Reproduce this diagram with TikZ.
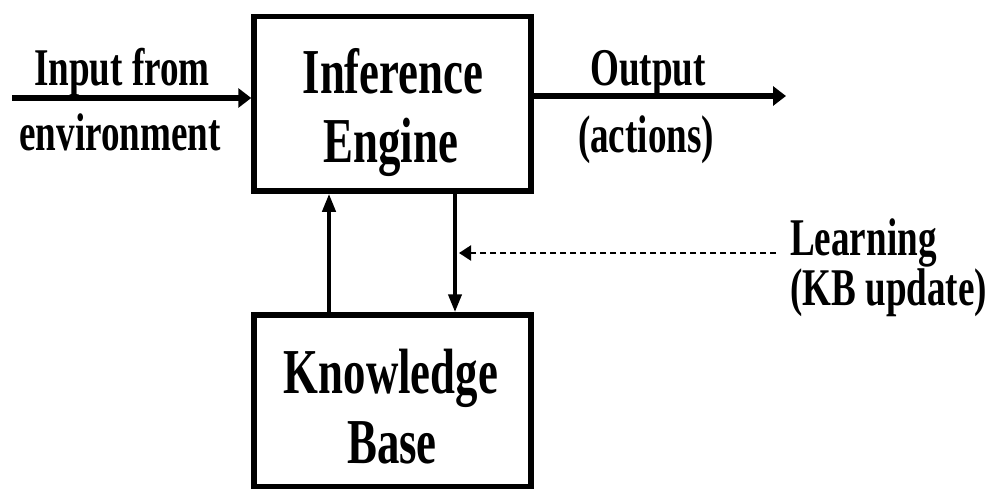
\documentclass[tikz,border=0pt]{standalone}
\usepackage{fontspec}
\setmainfont{Liberation Serif}[FakeStretch=0.7]
\usetikzlibrary{arrows.meta}
\begin{document}
\begin{tikzpicture}[x=1pt,y=-1pt,
  blockbox/.style={draw=black,line width=5.5pt,inner sep=0pt,minimum width=277pt},
  bigtxt/.style={inner sep=0pt,anchor=base,font=\fontsize{64}{64}\selectfont\bfseries},
  labtxt/.style={inner sep=0pt,anchor=base,font=\fontsize{53}{53}\selectfont\bfseries},
  flow/.style={line width=6pt,-{Triangle[length=13pt,width=19pt]}},
  vflow/.style={line width=4pt,-{Triangle[length=18pt,width=13pt]}},
  learnflow/.style={line width=2.2pt,dash pattern=on 6pt off 4pt,-{Triangle[length=12pt,width=15pt]}}]
\useasboundingbox (0,0) rectangle (994,488);
% blocks
\node[blockbox,minimum height=174.5pt] (ie) at (392.5,103.75) {};
\node[blockbox,minimum height=172pt] (kb) at (392.5,401) {};
% block texts
\node[bigtxt] (ie1) at (393,93) {Inference};
\node[bigtxt] (ie2) at (391,162) {Engine};
\node[bigtxt] (kb1) at (391,393) {Knowledge};
\node[bigtxt] (kb2) at (392,463) {Base};
% labels
\node[labtxt] (in1) at (122,85) {Input from};
\node[labtxt] (in2) at (120,150) {environment};
\node[labtxt] (out1) at (648,85) {Output};
\node[labtxt] (out2) at (646,152) {(actions)};
\node[labtxt,anchor=base west] (ln1) at (790,255) {Learning};
\node[labtxt,anchor=base west] (ln2) at (790,305) {(KB update)};
% connector ends
\coordinate (inS) at (12,98);
\coordinate (outE) at (786,96);
\coordinate (upx) at (329,250);
\coordinate (dnx) at (455,250);
\coordinate (lnS) at (776,253);
\coordinate (lnE) at (459,253);
% connectors
\draw[flow] (inS) -- (inS -| ie.west);
\draw[flow] (ie.east |- outE) -- (outE);
\draw[vflow] (kb.north -| upx) -- (ie.south -| upx);
\draw[vflow] (ie.south -| dnx) -- (kb.north -| dnx);
\draw[learnflow] (lnS) -- (lnE);
\end{tikzpicture}
\end{document}
